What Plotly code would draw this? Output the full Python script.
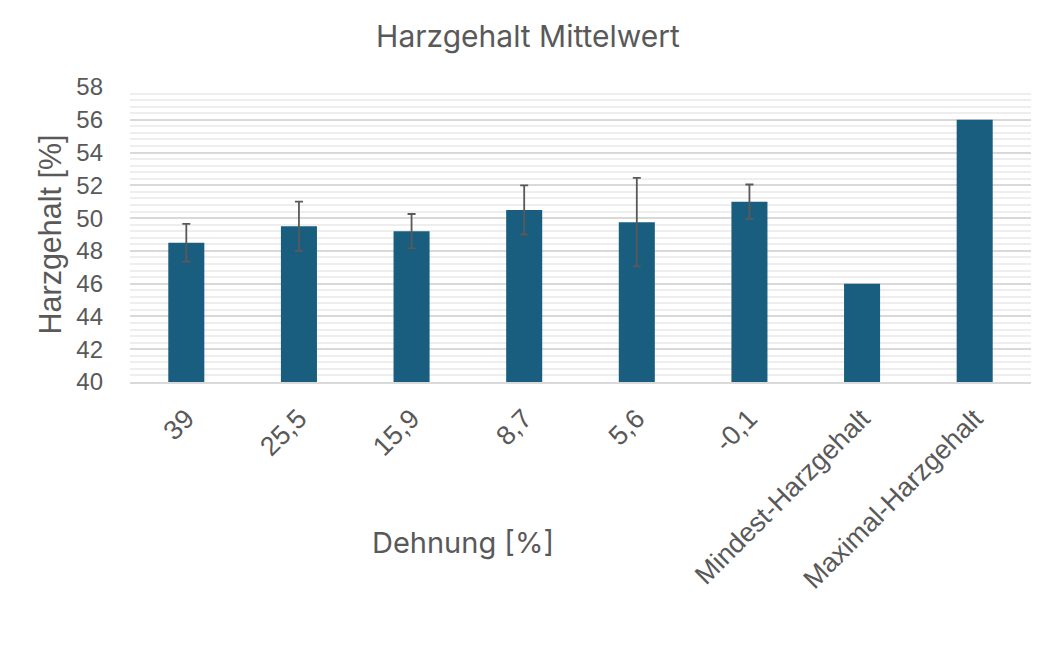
import plotly.graph_objects as go

categories = ["39", "25,5", "15,9", "8,7", "5,6", "-0,1", "Mindest-Harzgehalt", "Maximal-Harzgehalt"]
mean_values = [48.5, 49.5, 49.2, 50.5, 49.75, 51.0, 46.0, 56.0]
error_values = [1.15, 1.5, 1.05, 1.5, 2.7, 1.05]
y_ticks = [40, 42, 44, 46, 48, 50, 52, 54, 56, 58]

W, H = 1053, 657
OFF = 8  # page body margin offset
L, T = 130 - OFF, 87 - OFF
R = W - (1031 - OFF)
B = H - (382 - OFF)
BAR_COLOR = "#195E7F"
TEXT = "#595959"

n_err = len(error_values)
fig = go.Figure()
fig.add_trace(go.Bar(
    x=categories[:n_err],
    y=mean_values[:n_err],
    marker=dict(color=BAR_COLOR, line=dict(width=0)),
    error_y=dict(type="data", array=error_values, symmetric=True,
                 color=TEXT, thickness=1.8, width=4),
))
fig.add_trace(go.Bar(
    x=categories[n_err:],
    y=mean_values[n_err:],
    marker=dict(color=BAR_COLOR, line=dict(width=0)),
))

fig.update_layout(
    width=W, height=H,
    margin=dict(l=L, r=R, t=T, b=B, pad=0, autoexpand=False),
    paper_bgcolor="white", plot_bgcolor="white",
    barmode="overlay",
    bargap=0.68,
    showlegend=False,
    title=dict(text="Harzgehalt Mittelwert", x=(528 - OFF) / W, xanchor="center",
               y=1 - (36 - OFF) / H, yanchor="middle",
               font=dict(family="Inter", size=30, color=TEXT)),
    font=dict(family="Liberation Sans, Arial", color=TEXT),
)

fig.update_xaxes(
    type="category",
    categoryorder="array", categoryarray=categories,
    tickangle=-45,
    tickfont=dict(family="Liberation Sans, Arial", size=27, color=TEXT),
    showgrid=False,
    showline=True, linecolor="#D9D9D9", linewidth=2,
    ticks="", ticklabelstandoff=8,
    automargin=False,
)

fig.update_yaxes(
    range=[40, 58],
    tickvals=y_ticks,
    ticktext=[str(v) for v in y_ticks],
    tickfont=dict(family="Liberation Sans, Arial", size=24, color=TEXT),
    showgrid=True, gridcolor="#D9D9D9", gridwidth=2,
    minor=dict(dtick=0.4, tick0=40, showgrid=True, gridcolor="#EEEEEE", gridwidth=1.5),
    zeroline=False, showline=False, ticks="",
    ticklabelstandoff=26,
    automargin=False,
)

fig.add_annotation(
    text="Harzgehalt [%]", xref="paper", yref="paper",
    x=0, y=0.5, xshift=-(L - (50 - OFF)), textangle=-90,
    showarrow=False, xanchor="center", yanchor="middle",
    font=dict(family="Liberation Sans, Arial", size=30.5, color=TEXT),
)
fig.add_annotation(
    text="Dehnung [%]", xref="paper", yref="paper",
    x=(463 - OFF - L) / (W - L - R), y=0, yshift=-((542 - OFF) - (H - B)),
    showarrow=False, xanchor="center", yanchor="middle",
    font=dict(family="Inter", size=29, color=TEXT),
)

fig.write_html("out.html")
